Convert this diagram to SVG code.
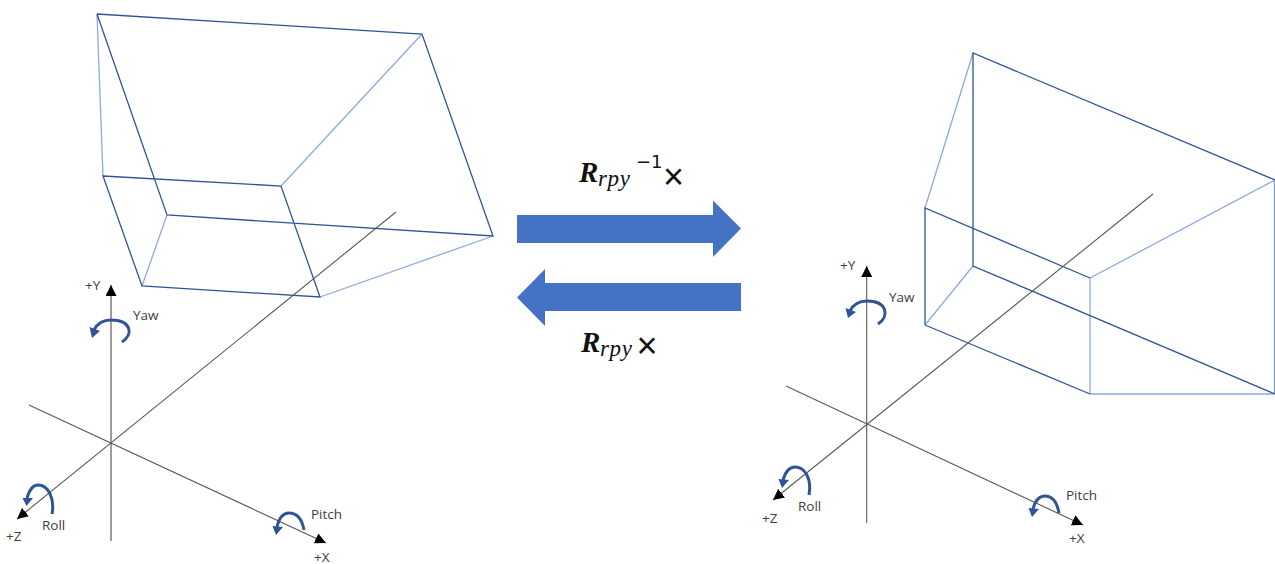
<svg xmlns="http://www.w3.org/2000/svg" width="1275" height="564" viewBox="0 0 1275 564">
<style>
.ax{fill:none;stroke:#595959;stroke-width:1.1}
.ay{fill:none;stroke:#8c8c8c;stroke-width:1.7}
.d{fill:none;stroke:#2f5597;stroke-width:1.3}
.l{fill:none;stroke:#8faadc;stroke-width:1.3}
.rot{fill:none;stroke:#2f5597;stroke-width:3}
.rh{fill:#2f5597}
.t{font-family:"Open Sans","Noto Sans",sans-serif;font-size:13.5px;fill:#404040}
.big{fill:#4472c4}
.R{font-family:"Liberation Serif",serif;font-weight:bold;font-style:italic;font-size:29px;fill:#111}
.s{font-family:"Liberation Serif",serif;font-style:italic;font-size:23px;letter-spacing:0.6px;fill:#111}
.n{font-family:"DejaVu Sans",sans-serif;font-size:18px;fill:#111}
.x{font-family:"Liberation Sans",sans-serif;font-size:36px;fill:#111}
</style>
<defs>
<marker id="tip" viewBox="0 0 10 10" refX="10" refY="5" markerWidth="11" markerHeight="11" markerUnits="userSpaceOnUse" orient="auto"><path d="M0 0L10 5L0 10Z" fill="#000"/></marker>
</defs>
<g id="left-frustum">
<path class="l" d="M97 14L103 176M281 186L422 34M142 286L167 215M320 297L493 236"/>
<path class="d" d="M97 14L422 34L493 236L167 215L97 14M103 176L281 186L320 297L142 286Z"/>
</g>
<g id="right-frustum">
<path class="l" d="M973 53L925 208M925 325L973 266M1090 278L1275 180M1090 278V394H1275"/>
<path d="M1274.500 180V394" fill="none" stroke="#7f9bc8" stroke-width="1.300"/>
<path class="d" d="M1275 180L973 53V266L1275 394M925 325V208L1090 278M925 325L1090 394"/>
</g>
<g id="connectors">
<g id="left-axes">
<path class="ay" d="M111 541V285" marker-end="url(#tip)"/>
<path class="ax" d="M396 212L17 519" marker-end="url(#tip)"/>
<path class="ax" d="M29 405L326 543" marker-end="url(#tip)"/>
</g>
<g id="right-axes">
<path class="ax" d="M866.7 523V266" marker-end="url(#tip)"/>
<path class="ax" d="M1153 194L773 500" marker-end="url(#tip)"/>
<path class="ax" d="M786 386L1083 525" marker-end="url(#tip)"/>
</g>
<g id="rotations">
<path class="rot" d="M122 342C134 334 131 320 111 320C103 320 97 324 94 330"/>
<path class="rh" d="M89.500 327L100 331L92 338Z"/>
<path class="rot" d="M52 514C55 498 48 485 38 485C32 485 29 491 27 498"/>
<path class="rh" d="M22.500 498L33 498L26.500 506Z"/>
<path class="rot" d="M304 530C302 519 297 513 289 513C283 513 279 518 277 527"/>
<path class="rh" d="M272.500 526L283 527L276 535Z"/>
<path class="rot" d="M878 324C890 316 887 301 867 301C859 301 853 305 850 311"/>
<path class="rh" d="M845.500 308L856 312L848 318Z"/>
<path class="rot" d="M809 495C812 479 805 467 795 467C789 467 785 473 783 480"/>
<path class="rh" d="M778.500 479L789 480L782 488Z"/>
<path class="rot" d="M1059 513C1057 502 1052 496 1045 496C1039 496 1035 501 1033 509"/>
<path class="rh" d="M1028.500 508L1039 509L1032 517Z"/>
</g>
<path id="arrow-forward" class="big" d="M517 215H713V200.500L741 228.500L713 257V243H517Z"/>
<path id="arrow-back" class="big" d="M741 283H545V269L517 297.500L545 326V311H741Z"/>
</g>
<g id="labels">
<text class="t" x="85" y="290">+Y</text>
<text class="t" x="133" y="320">Yaw</text>
<text class="t" x="42" y="530">Roll</text>
<text class="t" x="6" y="541">+Z</text>
<text class="t" x="311" y="519">Pitch</text>
<text class="t" x="314" y="562">+X</text>
<text class="t" x="840" y="270">+Y</text>
<text class="t" x="889" y="302">Yaw</text>
<text class="t" x="798" y="511">Roll</text>
<text class="t" x="762" y="523">+Z</text>
<text class="t" x="1066" y="500">Pitch</text>
<text class="t" x="1069" y="543">+X</text>
<text class="R" x="579" y="182">R</text>
<text class="s" x="598" y="186">rpy</text>
<text class="n" x="636" y="168">−1</text>
<text class="x" x="663" y="189">×</text>
<text class="R" x="581" y="352">R</text>
<text class="s" x="600" y="356">rpy</text>
<text class="x" x="636.500" y="358">×</text>
</g>
</svg>
